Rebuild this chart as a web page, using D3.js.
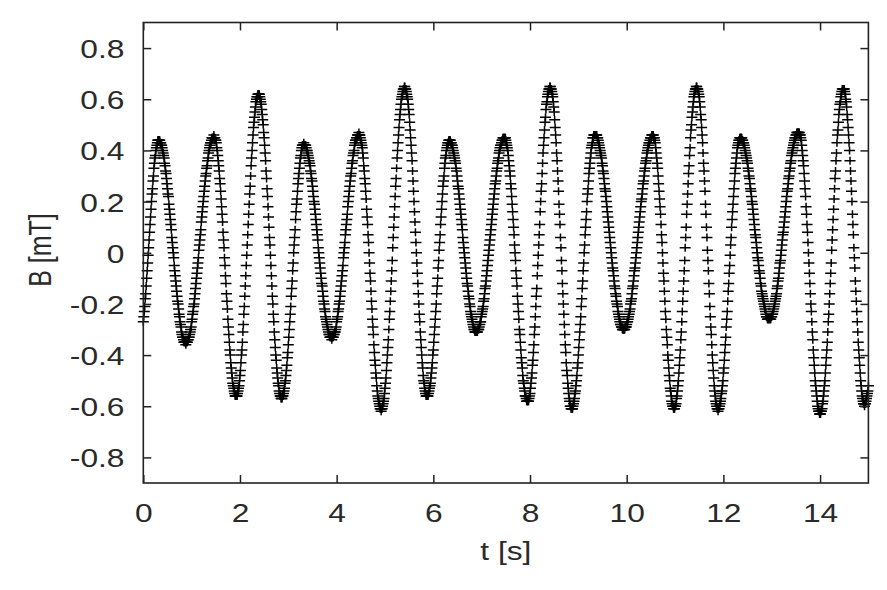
<!DOCTYPE html>
<html>
<head>
<meta charset="utf-8">
<script src="https://cdn.jsdelivr.net/npm/d3@7"></script>
<style>
html, body { margin: 0; padding: 0; background: #fff; }
svg { display: block; }
</style>
</head>
<body>
<svg id="chart" width="887" height="590"></svg>
<script>
// ---- data ----
const sampleStart = 0;     // s, first sample time
const sampleStep = 0.01;   // s, sampling interval
const bValues = [
-0.27,-0.25,-0.23,-0.21,-0.18,-0.16,-0.13,-0.10,-0.07,-0.04,-0.01,0.02,0.05,0.08,0.11,0.14,0.17,0.20,0.23,0.25,0.28,0.30,0.33,0.35,0.37,0.38,0.40,0.41,0.42,0.43,0.44,0.44,0.44,
0.44,0.44,0.43,0.43,0.42,0.42,0.41,0.40,0.39,0.38,0.37,0.35,0.34,0.32,0.31,0.29,0.27,0.25,0.23,0.22,0.19,0.17,0.15,0.13,0.11,0.09,0.06,0.04,0.02,0.00,-0.02,-0.05,-0.07,-0.09,-0.11,-0.13,-0.15,-0.17,-0.19,-0.20,-0.22,-0.24,-0.25,-0.27,-0.28,-0.29,-0.31,-0.32,-0.33,-0.33,-0.34,-0.35,-0.35,-0.35,-0.35,-0.36,
-0.35,-0.35,-0.35,-0.34,-0.34,-0.33,-0.33,-0.32,-0.31,-0.30,-0.29,-0.27,-0.26,-0.24,-0.23,-0.21,-0.20,-0.18,-0.16,-0.14,-0.12,-0.10,-0.08,-0.06,-0.04,-0.02,0.01,0.03,0.05,0.07,0.09,0.12,0.14,0.16,0.18,0.20,0.22,0.24,0.26,0.28,0.30,0.31,0.33,0.34,0.36,0.37,0.39,0.40,0.41,0.42,0.43,0.43,0.44,0.45,0.45,0.45,0.45,0.46,
0.45,0.45,0.44,0.44,0.43,0.41,0.40,0.38,0.36,0.34,0.32,0.29,0.27,0.24,0.21,0.18,0.15,0.12,0.08,0.05,0.02,-0.02,-0.05,-0.09,-0.12,-0.16,-0.19,-0.22,-0.26,-0.29,-0.32,-0.35,-0.38,-0.40,-0.43,-0.45,-0.47,-0.49,-0.51,-0.52,-0.53,-0.54,-0.55,-0.56,-0.56,-0.56,
-0.56,-0.56,-0.55,-0.54,-0.53,-0.52,-0.50,-0.48,-0.46,-0.43,-0.40,-0.38,-0.35,-0.31,-0.28,-0.24,-0.21,-0.17,-0.13,-0.09,-0.05,-0.01,0.03,0.07,0.11,0.15,0.19,0.23,0.26,0.30,0.34,0.37,0.40,0.43,0.46,0.49,0.51,0.53,0.55,0.57,0.59,0.60,0.61,0.61,0.62,0.62,
0.62,0.62,0.61,0.60,0.59,0.58,0.56,0.54,0.52,0.50,0.47,0.45,0.42,0.39,0.36,0.32,0.29,0.25,0.22,0.18,0.14,0.10,0.06,0.03,-0.01,-0.05,-0.09,-0.13,-0.17,-0.20,-0.24,-0.27,-0.31,-0.34,-0.37,-0.40,-0.42,-0.45,-0.47,-0.49,-0.51,-0.52,-0.54,-0.55,-0.56,-0.56,-0.57,-0.57,
-0.57,-0.56,-0.56,-0.55,-0.54,-0.53,-0.51,-0.50,-0.48,-0.46,-0.44,-0.41,-0.39,-0.36,-0.33,-0.30,-0.27,-0.24,-0.21,-0.17,-0.14,-0.11,-0.07,-0.04,0.00,0.03,0.06,0.09,0.13,0.16,0.19,0.21,0.24,0.27,0.29,0.31,0.33,0.35,0.37,0.38,0.40,0.41,0.42,0.42,0.42,0.43,
0.42,0.42,0.42,0.42,0.41,0.40,0.40,0.39,0.38,0.37,0.36,0.35,0.34,0.32,0.31,0.29,0.28,0.26,0.24,0.22,0.20,0.19,0.17,0.15,0.13,0.11,0.09,0.07,0.05,0.02,0.00,-0.02,-0.04,-0.06,-0.08,-0.10,-0.12,-0.13,-0.15,-0.17,-0.19,-0.20,-0.22,-0.23,-0.25,-0.26,-0.27,-0.28,-0.29,-0.30,-0.31,-0.32,-0.32,-0.33,-0.33,-0.33,-0.33,-0.34,
-0.33,-0.33,-0.33,-0.32,-0.32,-0.31,-0.31,-0.30,-0.29,-0.27,-0.26,-0.25,-0.23,-0.22,-0.20,-0.19,-0.17,-0.15,-0.13,-0.11,-0.09,-0.07,-0.05,-0.02,0.00,0.02,0.04,0.07,0.09,0.11,0.13,0.15,0.18,0.20,0.22,0.24,0.26,0.28,0.30,0.31,0.33,0.35,0.36,0.38,0.39,0.40,0.42,0.43,0.44,0.44,0.45,0.45,0.46,0.46,0.46,0.47,
0.46,0.46,0.45,0.44,0.43,0.42,0.41,0.39,0.37,0.34,0.32,0.29,0.27,0.24,0.21,0.17,0.14,0.11,0.07,0.04,0.00,-0.04,-0.08,-0.11,-0.15,-0.19,-0.22,-0.26,-0.29,-0.32,-0.36,-0.39,-0.42,-0.44,-0.47,-0.49,-0.52,-0.54,-0.56,-0.57,-0.58,-0.59,-0.60,-0.61,-0.61,-0.62,
-0.61,-0.61,-0.60,-0.59,-0.58,-0.57,-0.55,-0.53,-0.51,-0.49,-0.46,-0.43,-0.40,-0.37,-0.34,-0.30,-0.26,-0.23,-0.19,-0.15,-0.11,-0.07,-0.03,0.02,0.06,0.10,0.14,0.18,0.22,0.26,0.29,0.33,0.37,0.40,0.43,0.46,0.49,0.52,0.54,0.56,0.58,0.60,0.61,0.62,0.63,0.64,0.64,0.65,0.65,
0.64,0.64,0.63,0.62,0.61,0.60,0.58,0.56,0.54,0.51,0.48,0.45,0.42,0.39,0.36,0.32,0.28,0.24,0.20,0.16,0.12,0.08,0.04,0.00,-0.04,-0.08,-0.12,-0.16,-0.20,-0.24,-0.27,-0.31,-0.34,-0.37,-0.40,-0.43,-0.45,-0.48,-0.50,-0.51,-0.53,-0.54,-0.55,-0.56,-0.56,-0.56,
-0.56,-0.56,-0.55,-0.54,-0.53,-0.52,-0.51,-0.49,-0.47,-0.45,-0.43,-0.40,-0.38,-0.35,-0.32,-0.29,-0.26,-0.23,-0.20,-0.16,-0.13,-0.10,-0.06,-0.03,0.01,0.04,0.07,0.11,0.14,0.17,0.20,0.23,0.26,0.28,0.30,0.33,0.35,0.37,0.38,0.40,0.41,0.42,0.43,0.43,0.44,0.44,
0.44,0.44,0.43,0.43,0.42,0.42,0.41,0.40,0.39,0.38,0.37,0.36,0.35,0.33,0.32,0.30,0.28,0.26,0.25,0.23,0.21,0.19,0.17,0.15,0.13,0.11,0.09,0.06,0.04,0.02,0.00,-0.02,-0.04,-0.06,-0.08,-0.10,-0.12,-0.13,-0.15,-0.17,-0.18,-0.20,-0.21,-0.23,-0.24,-0.25,-0.26,-0.27,-0.28,-0.29,-0.30,-0.30,-0.31,-0.31,-0.31,-0.31,
-0.31,-0.31,-0.30,-0.30,-0.30,-0.29,-0.28,-0.27,-0.27,-0.25,-0.24,-0.23,-0.22,-0.21,-0.19,-0.18,-0.16,-0.14,-0.13,-0.11,-0.09,-0.07,-0.05,-0.03,-0.01,0.01,0.03,0.05,0.07,0.09,0.11,0.13,0.15,0.17,0.19,0.21,0.23,0.25,0.27,0.28,0.30,0.32,0.33,0.35,0.36,0.37,0.39,0.40,0.41,0.42,0.42,0.43,0.44,0.44,0.45,0.45,0.45,0.45,
0.45,0.45,0.44,0.43,0.42,0.41,0.40,0.38,0.36,0.34,0.32,0.30,0.27,0.25,0.22,0.19,0.16,0.13,0.10,0.07,0.03,0.00,-0.03,-0.07,-0.10,-0.13,-0.17,-0.20,-0.23,-0.26,-0.30,-0.32,-0.35,-0.38,-0.41,-0.43,-0.45,-0.48,-0.50,-0.51,-0.53,-0.54,-0.56,-0.56,-0.57,-0.58,-0.58,-0.58,
-0.58,-0.58,-0.57,-0.56,-0.55,-0.53,-0.51,-0.49,-0.47,-0.44,-0.42,-0.39,-0.36,-0.32,-0.29,-0.25,-0.21,-0.17,-0.14,-0.09,-0.05,-0.01,0.03,0.07,0.11,0.16,0.20,0.24,0.27,0.31,0.35,0.39,0.42,0.45,0.48,0.51,0.53,0.56,0.58,0.59,0.61,0.62,0.63,0.64,0.64,0.65,0.65,
0.64,0.64,0.63,0.62,0.61,0.59,0.57,0.55,0.52,0.49,0.46,0.43,0.39,0.36,0.32,0.28,0.24,0.19,0.15,0.11,0.06,0.02,-0.03,-0.07,-0.12,-0.16,-0.20,-0.24,-0.28,-0.32,-0.36,-0.39,-0.43,-0.46,-0.48,-0.51,-0.53,-0.55,-0.57,-0.58,-0.60,-0.60,-0.61,-0.61,
-0.61,-0.61,-0.60,-0.59,-0.58,-0.57,-0.55,-0.54,-0.52,-0.50,-0.48,-0.45,-0.43,-0.40,-0.37,-0.34,-0.31,-0.28,-0.25,-0.21,-0.18,-0.14,-0.11,-0.07,-0.04,0.00,0.03,0.07,0.10,0.13,0.16,0.20,0.23,0.25,0.28,0.31,0.33,0.35,0.37,0.39,0.41,0.42,0.43,0.45,0.45,0.46,0.46,0.46,
0.46,0.46,0.46,0.46,0.45,0.45,0.44,0.43,0.42,0.41,0.40,0.39,0.38,0.37,0.35,0.34,0.32,0.31,0.29,0.27,0.25,0.24,0.22,0.20,0.18,0.16,0.14,0.12,0.10,0.08,0.06,0.04,0.02,0.00,-0.02,-0.04,-0.06,-0.07,-0.09,-0.11,-0.13,-0.14,-0.16,-0.17,-0.19,-0.20,-0.21,-0.23,-0.24,-0.25,-0.26,-0.27,-0.28,-0.28,-0.29,-0.29,-0.30,-0.30,-0.30,-0.30,
-0.30,-0.30,-0.29,-0.29,-0.29,-0.28,-0.27,-0.27,-0.26,-0.25,-0.24,-0.23,-0.22,-0.20,-0.19,-0.18,-0.16,-0.14,-0.13,-0.11,-0.09,-0.07,-0.06,-0.04,-0.02,0.00,0.02,0.04,0.06,0.08,0.10,0.12,0.14,0.16,0.18,0.20,0.21,0.23,0.25,0.27,0.28,0.30,0.32,0.33,0.35,0.36,0.37,0.39,0.40,0.41,0.42,0.43,0.43,0.44,0.45,0.45,0.45,0.46,0.46,0.46,
0.46,0.45,0.45,0.44,0.43,0.41,0.39,0.37,0.35,0.33,0.30,0.27,0.24,0.21,0.18,0.15,0.11,0.07,0.04,0.00,-0.04,-0.08,-0.11,-0.15,-0.19,-0.23,-0.26,-0.30,-0.33,-0.36,-0.40,-0.42,-0.45,-0.48,-0.50,-0.53,-0.54,-0.56,-0.58,-0.59,-0.60,-0.60,-0.61,-0.61,
-0.61,-0.60,-0.60,-0.59,-0.57,-0.56,-0.54,-0.52,-0.50,-0.47,-0.44,-0.41,-0.38,-0.34,-0.31,-0.27,-0.23,-0.19,-0.15,-0.11,-0.07,-0.03,0.02,0.06,0.10,0.15,0.19,0.23,0.27,0.31,0.34,0.38,0.41,0.45,0.48,0.50,0.53,0.55,0.57,0.59,0.61,0.62,0.63,0.64,0.64,0.65,0.65,
0.64,0.64,0.63,0.62,0.61,0.59,0.57,0.54,0.52,0.49,0.46,0.43,0.39,0.35,0.32,0.28,0.24,0.19,0.15,0.10,0.06,0.01,-0.03,-0.07,-0.12,-0.16,-0.21,-0.25,-0.29,-0.32,-0.36,-0.40,-0.43,-0.46,-0.49,-0.52,-0.54,-0.56,-0.58,-0.59,-0.60,-0.61,-0.61,-0.62,
-0.61,-0.61,-0.60,-0.59,-0.58,-0.57,-0.55,-0.54,-0.52,-0.50,-0.47,-0.45,-0.42,-0.39,-0.36,-0.33,-0.29,-0.26,-0.23,-0.19,-0.15,-0.12,-0.08,-0.05,-0.01,0.03,0.06,0.10,0.13,0.16,0.19,0.22,0.25,0.28,0.31,0.33,0.35,0.37,0.39,0.41,0.42,0.43,0.44,0.44,0.45,0.45,
0.45,0.45,0.45,0.44,0.44,0.43,0.43,0.42,0.41,0.40,0.39,0.38,0.37,0.36,0.35,0.33,0.32,0.30,0.29,0.27,0.25,0.24,0.22,0.20,0.19,0.17,0.15,0.13,0.11,0.09,0.07,0.06,0.04,0.02,0.00,-0.02,-0.03,-0.05,-0.07,-0.08,-0.10,-0.12,-0.13,-0.15,-0.16,-0.17,-0.18,-0.19,-0.20,-0.21,-0.22,-0.23,-0.24,-0.25,-0.25,-0.26,-0.26,-0.26,-0.26,-0.26,
-0.26,-0.26,-0.26,-0.25,-0.25,-0.24,-0.24,-0.23,-0.22,-0.21,-0.20,-0.19,-0.18,-0.17,-0.16,-0.14,-0.13,-0.11,-0.10,-0.08,-0.06,-0.04,-0.03,-0.01,0.01,0.03,0.05,0.07,0.08,0.10,0.12,0.14,0.16,0.18,0.20,0.22,0.24,0.25,0.27,0.29,0.30,0.32,0.33,0.35,0.36,0.38,0.39,0.40,0.41,0.42,0.43,0.44,0.45,0.45,0.46,0.46,0.47,0.47,0.47,0.47,0.47,
0.47,0.46,0.46,0.45,0.44,0.42,0.40,0.38,0.36,0.34,0.31,0.28,0.25,0.22,0.18,0.15,0.11,0.08,0.04,0.00,-0.04,-0.08,-0.12,-0.16,-0.20,-0.23,-0.27,-0.31,-0.34,-0.38,-0.41,-0.44,-0.47,-0.50,-0.52,-0.54,-0.56,-0.58,-0.60,-0.61,-0.62,-0.62,-0.63,-0.63,
-0.63,-0.62,-0.62,-0.61,-0.59,-0.58,-0.56,-0.54,-0.52,-0.50,-0.47,-0.44,-0.41,-0.38,-0.35,-0.31,-0.27,-0.24,-0.20,-0.16,-0.12,-0.08,-0.04,0.01,0.05,0.09,0.13,0.17,0.21,0.25,0.29,0.32,0.36,0.39,0.43,0.46,0.48,0.51,0.54,0.56,0.58,0.59,0.61,0.62,0.63,0.64,0.64,0.64,
0.64,0.64,0.63,0.62,0.60,0.59,0.57,0.54,0.52,0.49,0.46,0.43,0.40,0.36,0.32,0.28,0.24,0.20,0.15,0.11,0.07,0.02,-0.02,-0.06,-0.11,-0.15,-0.19,-0.23,-0.27,-0.31,-0.35,-0.38,-0.41,-0.44,-0.47,-0.50,-0.52,-0.54,-0.56,-0.57,-0.58,-0.59,-0.59,-0.60,
-0.59,-0.59,-0.58,-0.57,-0.56,-0.55,-0.54,-0.52
];

const xDomain = [0, 15];
const yDomain = [-0.9, 0.9];
const xTicks = [0, 2, 4, 6, 8, 10, 12, 14];
const xTickLabels = ["0", "2", "4", "6", "8", "10", "12", "14"];
const yTicks = [-0.8, -0.6, -0.4, -0.2, 0, 0.2, 0.4, 0.6, 0.8];
const yTickLabels = ["-0.8", "-0.6", "-0.4", "-0.2", "0", "0.2", "0.4", "0.6", "0.8"];
const xLabel = "t [s]";
const yLabel = "B [mT]";

// ---- layout & style ----
const W = 887, H = 590;
const plot = { left: 143.3, right: 868.4, top: 22.5, bottom: 483 };
const fontFamily = "'Liberation Sans', Arial, Helvetica, sans-serif";
const fontSize = 25;
const stretch = 1.27;       // horizontal stretch of the lettering
const textColor = "#2a2a2a";
const frameColor = "#222";
const tickLen = 8;

const svg = d3.select("#chart");
svg.append("rect").attr("width", W).attr("height", H).attr("fill", "#fff");

const x = d3.scaleLinear().domain(xDomain).range([plot.left, plot.right]);
const y = d3.scaleLinear().domain(yDomain).range([plot.bottom, plot.top]);

const points = bValues.map((v, i) => ({ t: sampleStart + i * sampleStep, v }));

// ---- markers (plus signs) ----
const plusPath = "M-5.5,0H5.5M0,-4V4";
svg.append("g")
  .attr("fill", "none")
  .attr("stroke", "#000")
  .attr("stroke-width", 1.5)
  .selectAll("path")
  .data(points)
  .join("path")
  .attr("transform", d => `translate(${x(d.t).toFixed(2)},${y(d.v).toFixed(2)})`)
  .attr("d", plusPath);

// ---- axes ----
function styleTicks(g) {
  g.select(".domain").remove();
  g.selectAll(".tick line").attr("stroke", frameColor).attr("stroke-width", 1.5);
  g.attr("font-size", null).attr("font-family", null);
}

const gBottom = svg.append("g")
  .attr("transform", `translate(0,${plot.bottom})`)
  .call(d3.axisBottom(x).tickValues(xTicks).tickSizeInner(-tickLen).tickSizeOuter(0)
    .tickFormat((d, i) => xTickLabels[i]));
styleTicks(gBottom);
gBottom.selectAll(".tick text")
  .attr("x", null).attr("y", null).attr("dy", null)
  .attr("transform", `translate(0,38.5) scale(${stretch},1)`)
  .attr("text-anchor", "middle")
  .attr("font-family", fontFamily).attr("font-size", fontSize).attr("fill", textColor);

const gTop = svg.append("g")
  .attr("transform", `translate(0,${plot.top})`)
  .call(d3.axisTop(x).tickValues(xTicks).tickSizeInner(-tickLen).tickSizeOuter(0).tickFormat(""));
styleTicks(gTop);

const gLeft = svg.append("g")
  .attr("transform", `translate(${plot.left},0)`)
  .call(d3.axisLeft(y).tickValues(yTicks).tickSizeInner(-tickLen).tickSizeOuter(0)
    .tickFormat((d, i) => yTickLabels[i]));
styleTicks(gLeft);
gLeft.selectAll(".tick text")
  .attr("x", null).attr("y", null).attr("dy", null)
  .attr("transform", `translate(${124.5 - plot.left},9.5) scale(${stretch},1)`)
  .attr("text-anchor", "end")
  .attr("font-family", fontFamily).attr("font-size", fontSize).attr("fill", textColor);

const gRight = svg.append("g")
  .attr("transform", `translate(${plot.right},0)`)
  .call(d3.axisRight(y).tickValues(yTicks).tickSizeInner(-tickLen).tickSizeOuter(0).tickFormat(""));
styleTicks(gRight);

// ---- frame ----
svg.append("rect")
  .attr("x", plot.left).attr("y", plot.top)
  .attr("width", plot.right - plot.left).attr("height", plot.bottom - plot.top)
  .attr("fill", "none").attr("stroke", frameColor).attr("stroke-width", 1.6);

// ---- axis titles ----
svg.append("text")
  .attr("transform", `translate(${(plot.left + plot.right) / 2},560) scale(${stretch},1)`)
  .attr("text-anchor", "middle")
  .attr("font-family", fontFamily).attr("font-size", fontSize).attr("fill", textColor)
  .text(xLabel);

svg.append("text")
  .attr("transform", `translate(51,250) rotate(-90) scale(1,${stretch})`)
  .attr("text-anchor", "middle")
  .attr("font-family", fontFamily).attr("font-size", fontSize).attr("fill", textColor)
  .text(yLabel);
</script>
</body>
</html>
